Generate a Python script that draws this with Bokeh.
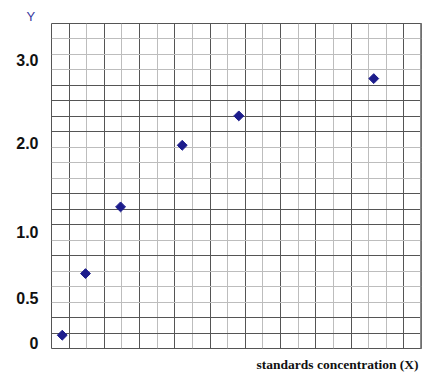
import numpy as np
from bokeh.plotting import figure
from bokeh.models import FixedTicker, Span, Range1d, Title
from bokeh.embed import file_html
from bokeh.resources import INLINE

# Data (in graph-paper grid units)
conc_x = [0.61, 1.93, 3.92, 7.42, 10.63, 18.29]
signal_y = [0.86, 4.84, 9.15, 13.13, 15.03, 17.44]

# Y tick labels as printed on the chart, and where they sit
y_tick_labels = ["0", "0.5", "1.0", "2.0", "3.0"]
y_tick_pos = [0.36, 3.29, 7.53, 13.28, 18.62]

# graph paper lines
x_major = [1, 3, 5, 7, 9, 11, 13, 15, 17, 20]
x_minor = [0, 2, 4, 6, 8, 10, 12, 14, 16, 18, 19]
y_major = [0, 1, 2, 6, 8, 9, 10, 14, 15, 16, 17, 21]
y_minor = [3, 4, 5, 7, 11, 12, 13, 18, 19, 20]

p = figure(width=433, height=377, output_backend="svg", toolbar_location=None,
           x_range=Range1d(0, 21), y_range=Range1d(0, 21),
           min_border_left=51, min_border_right=12, min_border_top=23, min_border_bottom=29)
p.background_fill_color = "white"
p.border_fill_color = "white"
p.outline_line_color = "#555555"
p.outline_line_width = 1

p.xaxis.visible = False
yax = p.yaxis[0]
yax.ticker = FixedTicker(ticks=y_tick_pos)
yax.major_label_overrides = {pos: lab for pos, lab in zip(y_tick_pos, y_tick_labels)}
yax.axis_line_color = None
yax.major_tick_line_color = None
yax.minor_tick_line_color = None
yax.major_tick_out = 0
yax.major_tick_in = 0
yax.major_label_standoff = 13
yax.major_label_text_font = "Liberation Sans"
yax.major_label_text_font_style = "bold"
yax.major_label_text_font_size = "16px"
yax.major_label_text_color = "#111111"

p.xgrid.ticker = FixedTicker(ticks=x_major, minor_ticks=x_minor)
p.ygrid.ticker = FixedTicker(ticks=y_major, minor_ticks=y_minor)
for g in (p.xgrid[0], p.ygrid[0]):
    g.grid_line_color = "#555555"
    g.grid_line_width = 1
    g.minor_grid_line_color = "#bdbdbd"
    g.minor_grid_line_width = 1

p.add_layout(Span(location=21, dimension="height", line_color="#8a8a8a", line_width=3))

p.scatter(conc_x, signal_y, marker="square", angle=np.pi / 4, size=7,
          fill_color="#1c1c8c", line_color="#1c1c8c")

xt = Title(text="standards concentration (X)", align="right", offset=3, standoff=12,
           text_font="Liberation Serif", text_font_style="bold",
           text_font_size="13.5px", text_color="#111111")
p.add_layout(xt, "below")
yt = Title(text="Y", align="left", offset=-25, standoff=0,
           text_font="Liberation Sans", text_font_style="normal",
           text_font_size="13px", text_color="#3a3a9e")
p.add_layout(yt, "above")

open("out.html", "w").write(file_html(p, INLINE))
